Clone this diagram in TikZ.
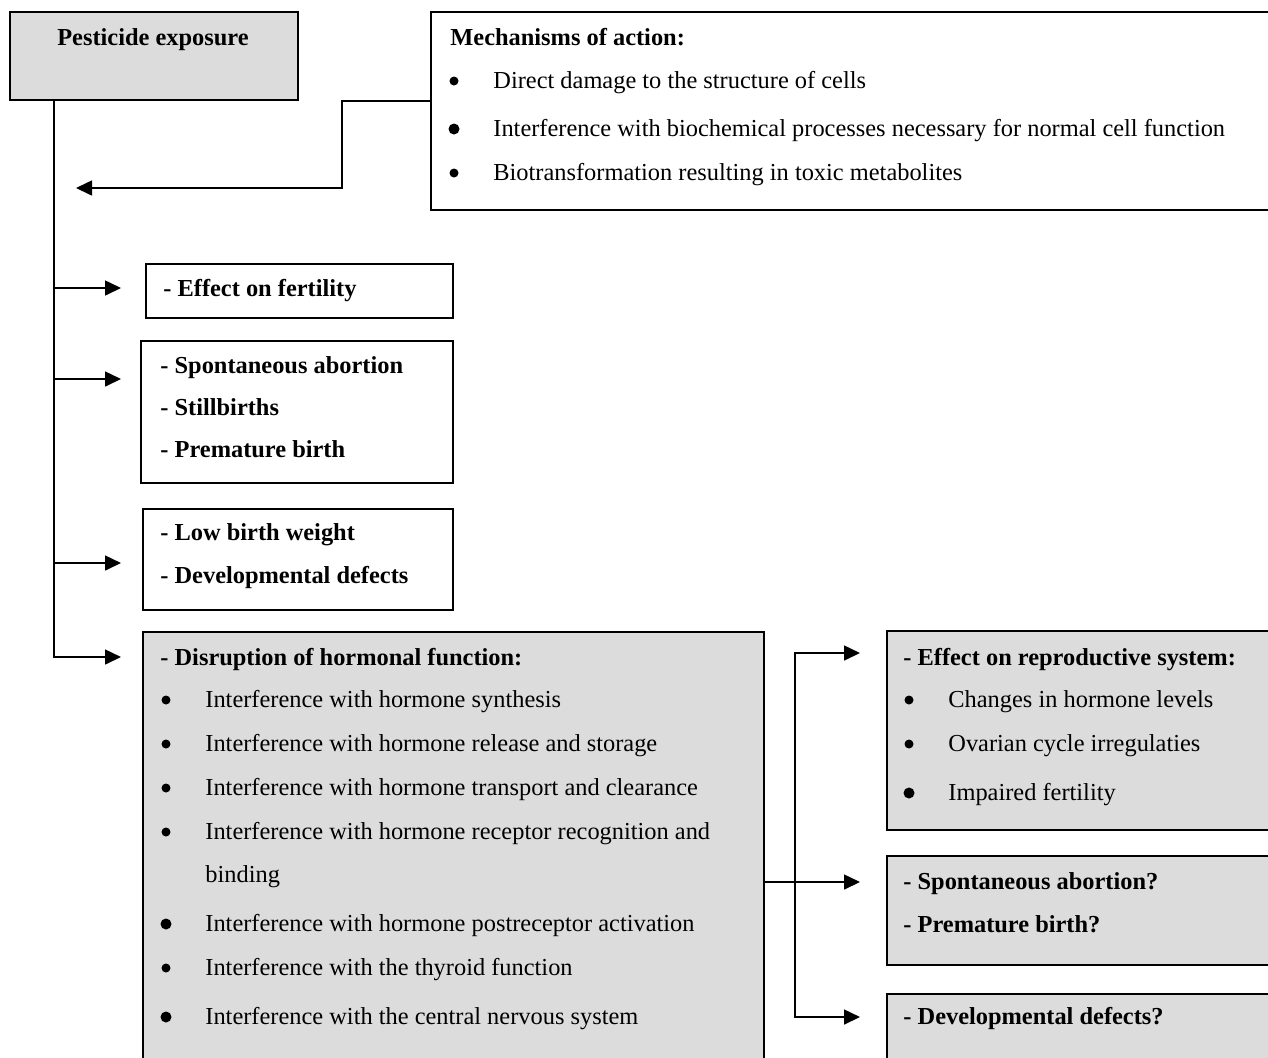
\documentclass[tikz,border=0pt]{standalone}
\usepackage{fontspec}
\setmainfont{Liberation Serif}
\usetikzlibrary{arrows.meta}
\definecolor{boxgray}{RGB}{220,220,220}
\tikzset{
  box/.style={draw, line width=1pt, inner sep=0pt, anchor=north west},
  gbox/.style={box, fill=boxgray},
  txt/.style={anchor=base west, inner sep=0pt, font=\fontsize{12.2}{14}\selectfont},
  hd/.style={txt, font=\fontsize{12.2}{14}\selectfont\bfseries},
  dot/.style={circle, fill=black, inner sep=0pt, minimum size=#1},
  wire/.style={line width=0.8pt},
  arr/.style={wire, -{Triangle[length=8pt,width=7.5pt]}},
  arrs/.style={wire, {Triangle[length=8pt,width=7.5pt]}-{Triangle[length=8pt,width=7.5pt]}}
}

\begin{document}
\begin{tikzpicture}[x=0.5pt, y=-0.5pt]
\useasboundingbox (0,0) rectangle (1268,1057);

%%%%% BOXES %%%%%
\node[gbox, minimum width=144pt, minimum height=44pt] (expo) at (9,11) {};
\node[box, minimum width=435pt, minimum height=99pt] (mech) at (430,11) {};

\node[box, minimum width=153.5pt, minimum height=27pt] (fert) at (145,263) {};
\node[box, minimum width=156pt, minimum height=71pt] (risk) at (140,340) {};
\node[box, minimum width=155pt, minimum height=50.5pt] (lowbw) at (142,508) {};
\node[gbox, minimum width=310.5pt, minimum height=224.5pt] (horm) at (142,631) {};

\node[gbox, minimum width=210pt, minimum height=99.5pt] (repro) at (886,630) {};
\node[gbox, minimum width=210pt, minimum height=54.5pt] (spont) at (886,855) {};
\node[gbox, minimum width=210pt, minimum height=40pt] (devel) at (886,993) {};

%%%%% TEXT %%%%%
\node[hd, anchor=base] (expot) at (153,45) {Pesticide exposure};

\node[hd] (mecht) at (450,45) {Mechanisms of action:};
\foreach \yy/\s/\t [count=\i] in {88/4.5/Direct damage to the structure of cells,
    136/5.5/Interference with biochemical processes necessary for normal cell function,
    180/4.5/Biotransformation resulting in toxic metabolites}{
  \node[dot=\s pt] (mb\i) at (454,\yy-7) {};
  \node[txt] (mt\i) at (493,\yy) {\t};
}

\node[hd] (fertt) at (163,296) {- Effect on fertility};

\node[hd] (risk1) at (160,373) {- Spontaneous abortion};
\node[hd] (risk2) at (160,415) {- Stillbirths};
\node[hd] (risk3) at (160,457) {- Premature birth};

\node[hd] (lowbw1) at (160,540) {- Low birth weight};
\node[hd] (lowbw2) at (160,583) {- Developmental defects};

\node[hd] (hormt) at (160,665) {- Disruption of hormonal function:};
\foreach \yy/\s/\t [count=\i] in {707/4.5/Interference with hormone synthesis,
    751/4.5/Interference with hormone release and storage,
    795/4.5/Interference with hormone transport and clearance,
    839/4.5/Interference with hormone receptor recognition and,
    931/5.5/Interference with hormone postreceptor activation,
    975/4.5/Interference with the thyroid function,
    1024/5.5/Interference with the central nervous system}{
  \node[dot=\s pt] (hb\i) at (166,\yy-7) {};
  \node[txt] (ht\i) at (205,\yy) {\t};
}
\node[txt] (hbind) at (205,882) {binding};

\node[hd] (reprot) at (903,665) {- Effect on reproductive system:};
\foreach \yy/\s/\t [count=\i] in {707/4.5/Changes in hormone levels,
    751/4.5/Ovarian cycle irregulaties,
    800/5.5/Impaired fertility}{
  \node[dot=\s pt] (rb\i) at (909,\yy-7) {};
  \node[txt] (rt\i) at (948,\yy) {\t};
}

\node[hd] (spont1) at (903,889) {- Spontaneous abortion?};
\node[hd] (spont2) at (903,932) {- Premature birth?};

\node[hd] (develt) at (903,1024) {- Developmental defects?};

%%%%% CONNECTORS %%%%%
\coordinate (mtip) at (76,188);
\draw[arr] ([yshift=5pt]mech.west) -- ++(-88,0) |- (mtip);

\coordinate (b1) at (54,288);
\coordinate (b2) at (54,379);
\coordinate (b3) at (54,563);
\coordinate (b4) at (54,657);
\draw[arr, shorten >=10.5pt] (expo.south -| b1) -- (b4) -- (b4 -| horm.west);
\draw[arr, shorten >=12pt] (b1) -- (b1 -| fert.west);
\draw[arr, shorten >=9.5pt] (b2) -- (b2 -| risk.west);
\draw[arr, shorten >=10.5pt] (b3) -- (b3 -| lowbw.west);

\coordinate (c1) at (795,653);
\coordinate (c2) at (795,882);
\coordinate (c3) at (795,1017);
\draw[arrs, shorten <=13pt, shorten >=13pt] (c1 -| repro.west) -- (c1) -- (c3) -- (c3 -| devel.west);
\draw[arr, shorten >=13pt] (horm.east |- c2) -- (c2 -| spont.west);

\end{tikzpicture}
\end{document}
